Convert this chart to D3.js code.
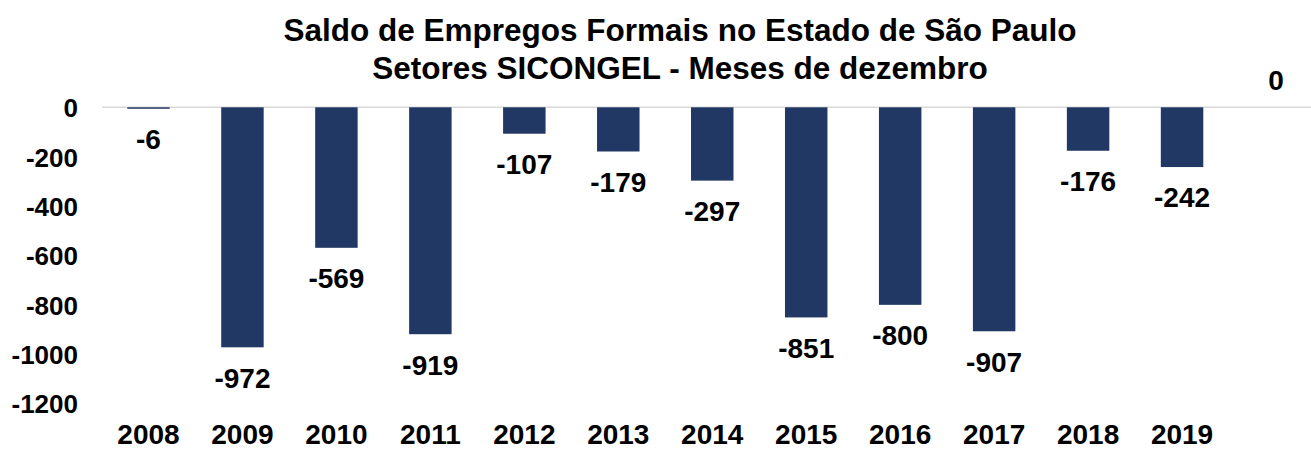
<!DOCTYPE html>
<html>
<head>
<meta charset="utf-8">
<script src="https://cdn.jsdelivr.net/npm/d3@7"></script>
<style>
  body { margin: 0; background: #fff; }
  text { font-family: Arial, "Liberation Sans", sans-serif; font-weight: bold; fill: #000; }
</style>
</head>
<body>
<svg id="chart" width="1311" height="450"></svg>
<script>
// data (last slot is an empty category with value 0)
const years = ["2008", "2009", "2010", "2011", "2012", "2013", "2014", "2015", "2016", "2017", "2018", "2019", ""];
const saldo = [-6, -972, -569, -919, -107, -179, -297, -851, -800, -907, -176, -242, 0];
const yTicks = [0, -200, -400, -600, -800, -1000, -1200];
const titleLines = ["Saldo de Empregos Formais no Estado de São Paulo", "Setores SICONGEL - Meses de dezembro"];

const svg = d3.select("#chart");
const width = +svg.attr("width");

const data = years.map((y, i) => ({ year: y, value: saldo[i] }));

// scales
const x = d3.scaleBand()
  .domain(data.map((d, i) => i))
  .range([101.5, 1323])
  .paddingInner(0.548)
  .paddingOuter(0.274);

const y = d3.scaleLinear()
  .domain([-1200, 0])
  .range([403.6, 107.3]);

//title
svg.append("text")
  .attr("text-anchor", "middle")
  .attr("font-size", "31.5px")
  .selectAll("tspan")
  .data(titleLines)
  .join("tspan")
  .attr("x", 680)
  .attr("y", (d, i) => 41 + i * 38)
  .text(d => d);

//y axis, labels only
const yAxis = svg.append("g")
  .attr("transform", "translate(78,0)")
  .call(d3.axisLeft(y).tickValues(yTicks).tickSize(0).tickPadding(0).tickFormat(d => String(d)));
yAxis.select(".domain").remove();
yAxis.selectAll("text")
  .attr("font-size", "26px")
  .attr("font-family", null)
  .attr("dy", "0.36em");

//zero line
svg.append("line")
  .attr("x1", 102)
  .attr("x2", width)
  .attr("y1", y(0))
  .attr("y2", y(0))
  .attr("stroke", "#d9d9d9")
  .attr("stroke-width", 1.5);

//bars
svg.selectAll("rect.bar")
  .data(data)
  .join("rect")
  .attr("class", "bar")
  .attr("x", (d, i) => x(i))
  .attr("width", x.bandwidth())
  .attr("y", d => y(Math.max(0, d.value)))
  .attr("height", d => Math.abs(y(d.value) - y(0)))
  .attr("fill", "#213864");

//value labels
svg.selectAll("text.label")
  .data(data)
  .join("text")
  .attr("class", "label")
  .attr("x", (d, i) => x(i) + x.bandwidth() / 2)
  .attr("y", d => d.value < 0 ? y(d.value) + 40.4 : y(d.value) - 17.3)
  .attr("text-anchor", "middle")
  .attr("font-size", "28px")
  .text(d => d.value);

//x labels
svg.selectAll("text.year")
  .data(data)
  .join("text")
  .attr("class", "year")
  .attr("x", (d, i) => x(i) + x.bandwidth() / 2)
  .attr("y", 444)
  .attr("text-anchor", "middle")
  .attr("font-size", "28px")
  .text(d => d.year);
</script>
</body>
</html>
